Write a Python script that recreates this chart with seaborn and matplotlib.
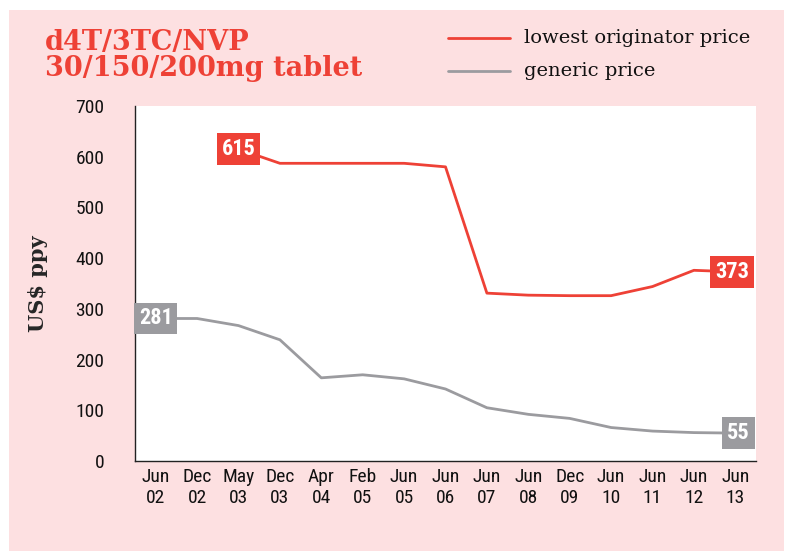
import matplotlib
matplotlib.use('Agg')
import matplotlib.pyplot as plt
import seaborn as sns
import numpy as np
import pandas as pd
from matplotlib import font_manager
from matplotlib.patches import Rectangle

# data
dates = ['Jun\n02', 'Dec\n02', 'May\n03', 'Dec\n03', 'Apr\n04', 'Feb\n05', 'Jun\n05', 'Jun\n06',
         'Jun\n07', 'Jun\n08', 'Dec\n09', 'Jun\n10', 'Jun\n11', 'Jun\n12', 'Jun\n13']
originator = [np.nan, np.nan, 615, 587, 587, 587, 587, 580, 331, 327, 326, 326, 344, 376, 373]
generic = [281, 281, 267, 239, 164, 170, 162, 142, 105, 92, 84, 66, 59, 56, 55]
series_names = ['lowest originator price', 'generic price']
yticks = [0, 100, 200, 300, 400, 500, 600, 700]

RED = '#EE4136'
GREY = '#9B9B9F'
PINK = '#FDE0E1'

available = {f.name for f in font_manager.fontManager.ttflist}
def pick(*names):
    for n in names:
        if n in available:
            return n
    return 'DejaVu Sans'

narrow = pick('Liberation Sans Narrow', 'Roboto Condensed', 'DejaVu Sans')
serif = pick('DejaVu Serif', 'Liberation Serif')

df = pd.DataFrame({
    'x': list(range(len(dates))) * 2,
    'price': originator + generic,
    'series': [series_names[0]] * len(dates) + [series_names[1]] * len(dates),
})

sns.set_style('white')
fig = plt.figure(figsize=(7.87, 5.51), dpi=100)
fig.patch.set_facecolor('white')
fig.patches.append(Rectangle((9 / 787, 0), (784 - 9) / 787, (551 - 10) / 551,
                             transform=fig.transFigure, facecolor=PINK, edgecolor='none', zorder=-10))

ax = fig.add_axes([135 / 787, 90 / 551, (756 - 135) / 787, (461 - 106) / 551])
ax.set_facecolor('white')

sns.lineplot(data=df.dropna(), x='x', y='price', hue='series', palette=[RED, GREY],
             hue_order=series_names, linewidth=2, ax=ax, legend=False)

ax.set_xlim(-0.5, len(dates) - 0.5)
ax.set_ylim(0, 700)
ax.set_yticks(yticks)
ax.set_xticks(range(len(dates)))
ax.set_xticklabels(dates, fontfamily=narrow, fontsize=14, linespacing=1.2, color='#111111')
ax.set_xticks(np.arange(-0.5, len(dates), 1), minor=True)
ax.tick_params(axis='x', which='major', length=0, pad=5)
ax.tick_params(axis='x', which='minor', length=14, width=1, color='#333333', direction='out')
ax.tick_params(axis='y', length=14, width=1, color='#555555', direction='out', pad=8)
for lab in ax.get_yticklabels():
    lab.set_fontfamily(narrow)
    lab.set_fontsize(14)
    lab.set_color('#111111')

for s in ['top', 'right']:
    ax.spines[s].set_visible(False)
for s in ['left', 'bottom']:
    ax.spines[s].set_color('#222222')
    ax.spines[s].set_linewidth(1)

ax.set_xlabel('')
ax.set_ylabel('US$ ppy', fontfamily=serif, fontweight='bold', fontsize=15, labelpad=20)

# value boxes
box_labels = [(2, originator[2], RED, 0), (14, originator[14], RED, -0.08),
              (0, generic[0], GREY, 0), (14, generic[14], GREY, 0.08)]
for xi, val, col, dx in box_labels:
    ax.text(xi + dx, val, f'{int(val)}', ha='center', va='center', color='white',
            fontsize=16, fontweight='bold', fontfamily=narrow, zorder=5,
            bbox=dict(boxstyle='square,pad=0.22', facecolor=col, edgecolor='none'))

# title
fig.text(45 / 787, 1 - 29 / 551, 'd4T/3TC/NVP\n30/150/200mg tablet', ha='left', va='top',
         color=RED, fontsize=19.5, fontweight='bold', fontfamily=serif, linespacing=0.95)

# legend
legend_items = [(series_names[0], RED, 38), (series_names[1], GREY, 71)]
for name, col, ypix in legend_items:
    yf = 1 - ypix / 551
    fig.lines.append(plt.Line2D([448 / 787, 510 / 787], [yf, yf], transform=fig.transFigure,
                                color=col, linewidth=2))
    fig.text(524 / 787, yf, name, ha='left', va='center', fontsize=14, fontfamily=serif,
             color='#111111')

fig.savefig('out.png', dpi=100)
